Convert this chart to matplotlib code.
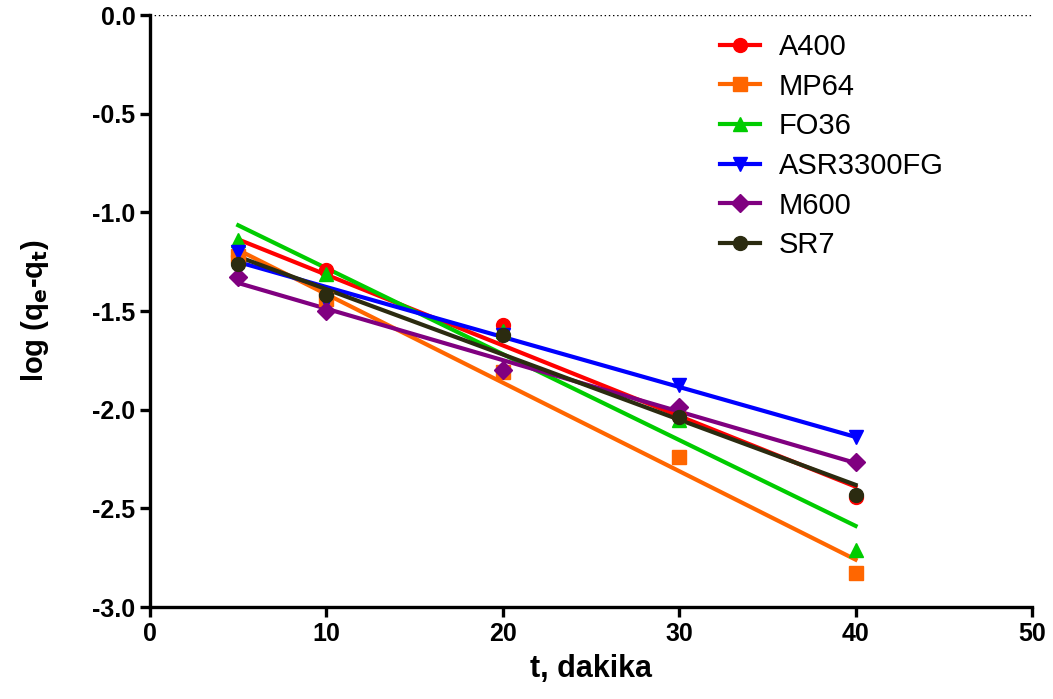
import numpy as np
import matplotlib
matplotlib.use("Agg")
import matplotlib.pyplot as plt

plt.rcParams["font.family"] = ["Liberation Sans", "DejaVu Sans"]

t = [5, 10, 20, 30, 40]
names = ["A400", "MP64", "FO36", "ASR3300FG", "M600", "SR7"]
a400 = [-1.22, -1.29, -1.57, -2.03, -2.44]
mp64 = [-1.22, -1.44, -1.81, -2.24, -2.83]
fo36 = [-1.14, -1.31, -1.60, -2.05, -2.71]
asr3300fg = [-1.20, -1.45, -1.62, -1.875, -2.14]
m600 = [-1.326, -1.50, -1.80, -1.985, -2.264]
sr7 = [-1.26, -1.42, -1.62, -2.036, -2.43]
series = [a400, mp64, fo36, asr3300fg, m600, sr7]

colors = ["#ff0000", "#ff6600", "#00cc00", "#0000ff", "#800080", "#2b2b10"]
markers = ["o", "s", "^", "v", "D", "o"]
msizes = [10, 10, 10, 10, 9, 10]

fig = plt.figure(figsize=(10.53, 6.99), dpi=100)
ax = fig.add_axes([0.1425, 0.1316, 0.8375, 0.8469])

tt = np.array(t, dtype=float)
for name, y, c, m, ms in zip(names, series, colors, markers, msizes):
    k, b = np.polyfit(tt, y, 1)
    ax.plot(tt[[0, -1]], k * tt[[0, -1]] + b, color=c, lw=3, zorder=2)
    ax.plot(tt, y, ls="none", marker=m, ms=ms, color=c, zorder=3)
    ax.plot([], [], color=c, lw=3, marker=m, ms=ms, label=name)

ax.axhline(0, color="black", lw=1, ls=(0, (1, 2)), zorder=1)

ax.set_xlim(0, 50)
ax.set_ylim(-3.0, 0.0)
ax.set_xticks(range(0, 51, 10))
ax.set_yticks(np.arange(-3.0, 0.01, 0.5))
ax.yaxis.set_major_formatter(matplotlib.ticker.FormatStrFormatter("%.1f"))
for s in ["top", "right"]:
    ax.spines[s].set_visible(False)
for s in ["left", "bottom"]:
    ax.spines[s].set_linewidth(2.4)
ax.tick_params(direction="out", length=7, width=2.4, labelsize=18)
for lab in ax.get_xticklabels() + ax.get_yticklabels():
    lab.set_fontweight("bold")

ax.set_xlabel("t, dakika", fontsize=22, fontweight="bold", labelpad=6)
ax.set_ylabel("log (q$_\\mathbf{e}$-q$_\\mathbf{t}$)", fontsize=21, fontweight="bold", labelpad=30)

ax.legend(loc="upper left", bbox_to_anchor=(0.616, 1.014), frameon=False, fontsize=21,
          handlelength=1.4, labelspacing=0.4, handletextpad=0.62)

fig.savefig("out.png", dpi=100)
